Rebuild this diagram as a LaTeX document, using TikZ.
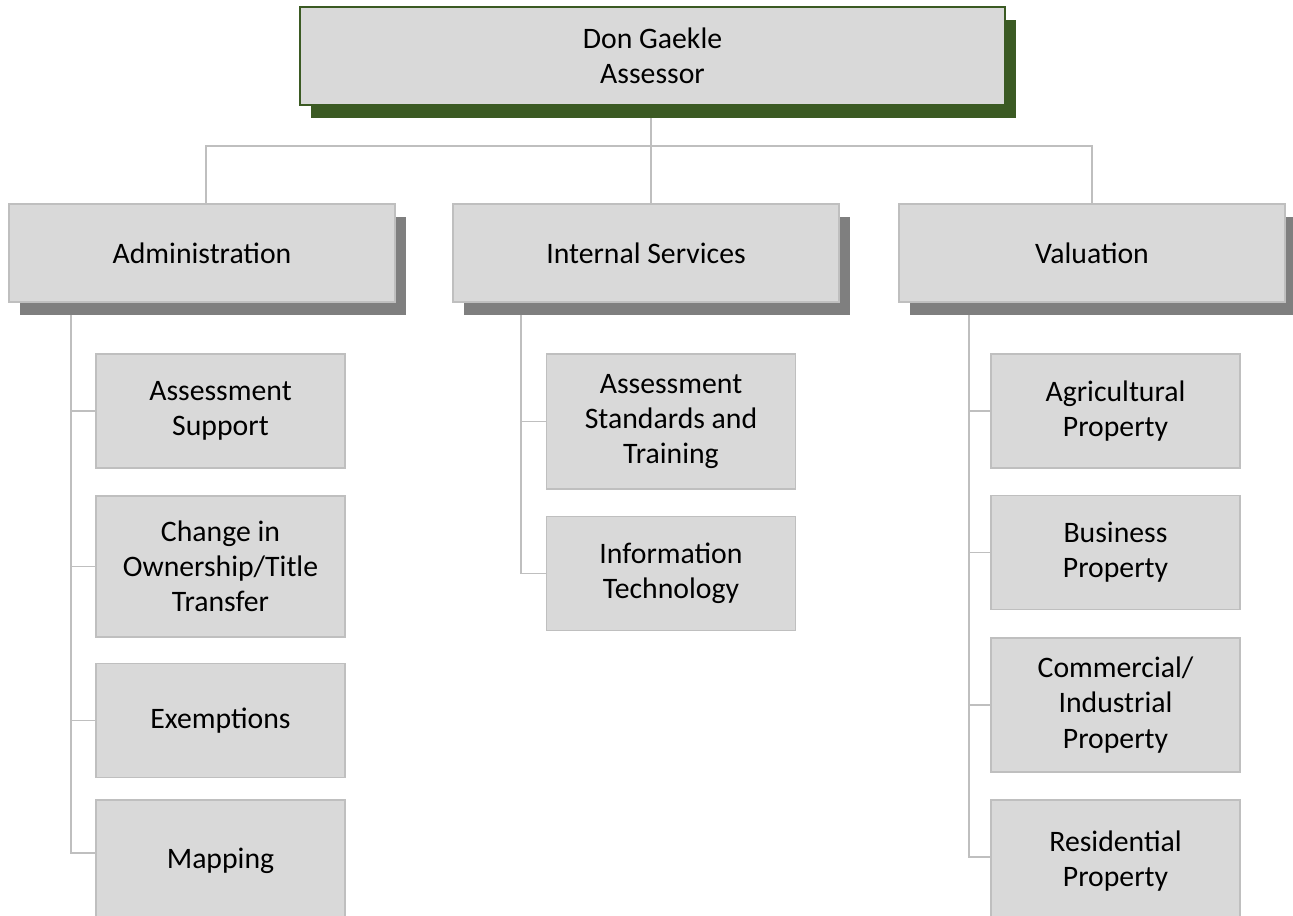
\documentclass[tikz,border=0pt]{standalone}
\usepackage{fontspec}
\setmainfont{Carlito}
\usepackage{tikz}
\usetikzlibrary{positioning,shadows,backgrounds}
\definecolor{boxgray}{HTML}{D9D9D9}
\definecolor{edgegray}{HTML}{BFBFBF}
\definecolor{shadegray}{HTML}{7F7F7F}
\definecolor{headgreen}{HTML}{3B5A23}

\begin{document}
\begin{tikzpicture}[
  x=0.75pt, y=-0.75pt,
  font=\fontsize{22.3}{26.4}\selectfont,
  head/.style={draw=headgreen, line width=1pt, fill=boxgray, align=center,
    minimum width=528.75pt, minimum height=73.5pt,
    drop shadow={shadow xshift=7.9pt, shadow yshift=-9.5pt, fill=headgreen, opacity=1}},
  dept/.style={draw=edgegray, line width=1.2pt, fill=boxgray, align=center,
    minimum width=289.5pt, minimum height=73.5pt,
    drop shadow={shadow xshift=7.9pt, shadow yshift=-9.5pt, fill=shadegray, opacity=1}},
  unit/.style={draw=edgegray, line width=1.2pt, fill=boxgray, align=center,
    minimum width=187pt, minimum height=85.5pt},
  link/.style={draw=edgegray, line width=1.4pt}]
  \clip (0,0) rectangle (1293,915);
  \coordinate (bus) at (651,146);
  \coordinate (admspine) at (71,300);
  \coordinate (intspine) at (521,300);
  \coordinate (valspine) at (969,300);

  \node[head] (top) at (652.5,56) {Don Gaekle\\Assessor};

  \node[dept] (adm) at (202,253) {Administration};
  \node[dept] (int) at (646,253) {Internal Services};
  \node[dept] (val) at (1092,253) {Valuation};

  \node[unit] (sup) at (220.5,411) {Assessment\\Support};
  \node[unit, minimum height=105.75pt] (own) at (220.5,566.5) {Change in\\Ownership/Title\\Transfer};
  \node[unit] (exe) at (220.5,720.5) {Exemptions};
  \node[unit, minimum height=91.5pt] (map) at (220.5,861) {Mapping};

  \node[unit, minimum height=101.25pt] (std) at (671,421.5) {Assessment\\Standards and\\Training};
  \node[unit] (tech) at (671,573.5) {Information\\Technology};

  \node[unit] (agr) at (1115.5,411) {Agricultural\\Property};
  \node[unit] (busp) at (1115.5,552.5) {Business\\Property};
  \node[unit, minimum height=100.5pt] (com) at (1115.5,705) {Commercial/\\Industrial\\Property};
  \node[unit, minimum height=91.5pt] (res) at (1115.5,861) {Residential\\Property};

  % connectors behind the boxes
  \begin{scope}[on background layer]
  \draw[link] (top.south -| bus) -- (bus);
  \draw[link] (adm.north -| 206,0) |- (bus) -| (val.north);
  \draw[link] (bus) -- (bus |- int.north);

  \draw[link] (admspine) |- ([yshift=6pt]map.west);
  \foreach \u in {sup,own,exe}
    \draw[link] (admspine |- \u.west) -- (\u.west);

  \draw[link] (intspine) |- (tech.west);
  \draw[link] (intspine |- std.west) -- (std.west);

  \draw[link] (valspine) |- ([yshift=3pt]res.west);
  \foreach \u in {agr,busp,com}
    \draw[link] (valspine |- \u.west) -- (\u.west);
  \end{scope}
\end{tikzpicture}
\end{document}
